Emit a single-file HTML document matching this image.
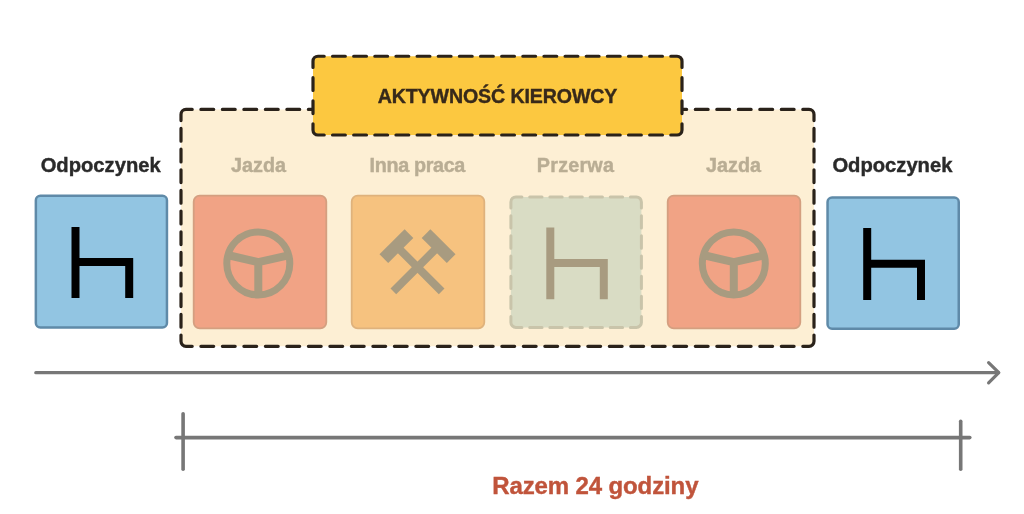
<!DOCTYPE html>
<html><head><meta charset="utf-8">
<style>
html,body{margin:0;padding:0;background:#fff;width:1024px;height:514px;overflow:hidden}
svg{display:block}
text{font-family:"Liberation Sans",sans-serif;font-weight:bold}
svg{will-change:transform}
</style></head>
<body>
<svg width="1024" height="514" viewBox="0 0 1024 514">
<!-- container -->
<rect x="181" y="109.4" width="633" height="236.9" rx="5" fill="#FDEFD4"/>
<path d="M181 120.6V114.4A5 5 0 0 1 186 109.4H192.2M802.8 109.4H809A5 5 0 0 1 814 114.4V120.6M814 335.1V341.3A5 5 0 0 1 809 346.3H802.8M192.2 346.3H186A5 5 0 0 1 181 341.3V335.1M200.9 109.4H213.7M200.9 346.3H213.7M222.39 109.4H235.19M222.39 346.3H235.19M243.89 109.4H256.69M243.89 346.3H256.69M265.39 109.4H278.19M265.39 346.3H278.19M286.88 109.4H299.68M286.88 346.3H299.68M308.38 109.4H321.18M308.38 346.3H321.18M329.88 109.4H342.68M329.88 346.3H342.68M351.37 109.4H364.17M351.37 346.3H364.17M372.87 109.4H385.67M372.87 346.3H385.67M394.37 109.4H407.17M394.37 346.3H407.17M415.86 109.4H428.66M415.86 346.3H428.66M437.36 109.4H450.16M437.36 346.3H450.16M458.86 109.4H471.66M458.86 346.3H471.66M480.35 109.4H493.15M480.35 346.3H493.15M501.85 109.4H514.65M501.85 346.3H514.65M523.34 109.4H536.14M523.34 346.3H536.14M544.84 109.4H557.64M544.84 346.3H557.64M566.34 109.4H579.14M566.34 346.3H579.14M587.83 109.4H600.63M587.83 346.3H600.63M609.33 109.4H622.13M609.33 346.3H622.13M630.83 109.4H643.63M630.83 346.3H643.63M652.32 109.4H665.12M652.32 346.3H665.12M673.82 109.4H686.62M673.82 346.3H686.62M695.32 109.4H708.12M695.32 346.3H708.12M716.81 109.4H729.61M716.81 346.3H729.61M738.31 109.4H751.11M738.31 346.3H751.11M759.81 109.4H772.61M759.81 346.3H772.61M781.3 109.4H794.1M781.3 346.3H794.1M181 128.46V141.26M814 128.46V141.26M181 149.13V161.93M814 149.13V161.93M181 169.79V182.59M814 169.79V182.59M181 190.45V203.25M814 190.45V203.25M181 211.12V223.92M814 211.12V223.92M181 231.78V244.58M814 231.78V244.58M181 252.45V265.25M814 252.45V265.25M181 273.11V285.91M814 273.11V285.91M181 293.77V306.57M814 293.77V306.57M181 314.44V327.24M814 314.44V327.24" fill="none" stroke="#2A221A" stroke-width="3.2" stroke-linecap="round"/>
<!-- header -->
<rect x="313" y="56.25" width="369" height="78.75" rx="5" fill="#FCC840"/>
<path d="M313 67.45V61.25A5 5 0 0 1 318 56.25H324.2M670.8 56.25H677A5 5 0 0 1 682 61.25V67.45M682 123.8V130A5 5 0 0 1 677 135H670.8M324.2 135H318A5 5 0 0 1 313 130V123.8M332.54 56.25H345.34M332.54 135H345.34M353.68 56.25H366.48M353.68 135H366.48M374.82 56.25H387.62M374.82 135H387.62M395.96 56.25H408.76M395.96 135H408.76M417.11 56.25H429.91M417.11 135H429.91M438.25 56.25H451.05M438.25 135H451.05M459.39 56.25H472.19M459.39 135H472.19M480.53 56.25H493.33M480.53 135H493.33M501.67 56.25H514.47M501.67 135H514.47M522.81 56.25H535.61M522.81 135H535.61M543.95 56.25H556.75M543.95 135H556.75M565.09 56.25H577.89M565.09 135H577.89M586.24 56.25H599.04M586.24 135H599.04M607.38 56.25H620.18M607.38 135H620.18M628.52 56.25H641.32M628.52 135H641.32M649.66 56.25H662.46M649.66 135H662.46M313 77.7V90.5M682 77.7V90.5M313 100.75V113.55M682 100.75V113.55" fill="none" stroke="#2A221A" stroke-width="3.2" stroke-linecap="round"/>
<text x="497.5" y="103.1" font-size="19.6" letter-spacing="-0.11" fill="#37291A" text-anchor="middle" stroke="#37291A" stroke-width="0.4">AKTYWNOŚĆ KIEROWCY</text>

<!-- labels -->
<text x="100.7" y="171.75" font-size="20.2" fill="#2A2A2A" text-anchor="middle" stroke="#2A2A2A" stroke-width="0.4">Odpoczynek</text>
<text x="258.5" y="171.75" font-size="19.8" fill="#B9AD94" text-anchor="middle" stroke="#B9AD94" stroke-width="0.4">Jazda</text>
<text x="417.3" y="171.75" font-size="19.8" letter-spacing="-0.35" fill="#B9AD94" text-anchor="middle" stroke="#B9AD94" stroke-width="0.4">Inna praca</text>
<text x="575.5" y="171.75" font-size="19.8" letter-spacing="0.2" fill="#B9AD94" text-anchor="middle" stroke="#B9AD94" stroke-width="0.4">Przerwa</text>
<text x="733.5" y="171.75" font-size="19.8" fill="#B9AD94" text-anchor="middle" stroke="#B9AD94" stroke-width="0.4">Jazda</text>
<text x="892.4" y="171.75" font-size="20.2" fill="#2A2A2A" text-anchor="middle" stroke="#2A2A2A" stroke-width="0.4">Odpoczynek</text>

<!-- left blue box -->
<rect x="35.85" y="195.85" width="131.1" height="131.7" rx="4.5" fill="#92C5E2" stroke="#5F8AA8" stroke-width="2.5"/>
<path d="M75.5 227V298M75.5 262H129.2V298" fill="none" stroke="#000" stroke-width="8"/>

<!-- jazda 1 -->
<rect x="193.7" y="195.7" width="132.6" height="132.6" rx="6" fill="#F1A385" stroke="#D49F80" stroke-width="1.8"/>
<g fill="none" stroke="#A89B80" stroke-width="7">
<circle cx="258.3" cy="263.4" r="31.5"/>
<path d="M227.5 255L258.3 262.2L289.5 255.2M258.3 262.2V295" stroke-width="8"/>
</g>

<!-- inna praca -->
<rect x="351.7" y="195.7" width="132.6" height="132.6" rx="6" fill="#F6C27F" stroke="#DFB27C" stroke-width="1.8"/>
<g fill="#A89B80">
<g transform="translate(396.4,246.1) rotate(45)"><rect x="-6.15" y="-17.75" width="12.3" height="35.5"/><rect x="0" y="-4" width="64" height="8"/></g>
<g transform="translate(438.6,246.1) rotate(135)"><rect x="-6.15" y="-17.75" width="12.3" height="35.5"/><rect x="0" y="-4" width="64" height="8"/></g>
</g>

<!-- przerwa -->
<rect x="510.9" y="196.9" width="130.5" height="130.5" rx="5" fill="#D9DCC4"/>
<path d="M510.9 207.9V201.9A5 5 0 0 1 515.9 196.9H521.9M630.4 196.9H636.4A5 5 0 0 1 641.4 201.9V207.9M641.4 316.4V322.4A5 5 0 0 1 636.4 327.4H630.4M521.9 327.4H515.9A5 5 0 0 1 510.9 322.4V316.4M529.73 196.9H542.03M529.73 327.4H542.03M549.87 196.9H562.17M549.87 327.4H562.17M570 196.9H582.3M570 327.4H582.3M590.13 196.9H602.43M590.13 327.4H602.43M610.27 196.9H622.57M610.27 327.4H622.57M510.9 215.73V228.03M641.4 215.73V228.03M510.9 235.87V248.17M641.4 235.87V248.17M510.9 256V268.3M641.4 256V268.3M510.9 276.13V288.43M641.4 276.13V288.43M510.9 296.27V308.57M641.4 296.27V308.57" fill="none" stroke="#C9C4AA" stroke-width="3" stroke-linecap="round"/>
<path d="M550.3 227.4V299.2M550.3 263H603.8V299.2" fill="none" stroke="#A89B80" stroke-width="8"/>

<!-- jazda 2 -->
<rect x="667.7" y="195.7" width="132.6" height="132.6" rx="6" fill="#F1A385" stroke="#D49F80" stroke-width="1.8"/>
<g fill="none" stroke="#A89B80" stroke-width="7">
<circle cx="733.8" cy="263.4" r="31.5"/>
<path d="M703 255L733.8 262.2L765 255.2M733.8 262.2V295" stroke-width="8"/>
</g>

<!-- right blue box -->
<rect x="827.55" y="197.55" width="131.2" height="131.2" rx="4.5" fill="#92C5E2" stroke="#5F8AA8" stroke-width="2.5"/>
<path d="M867.2 228V300M867.2 263.7H921V300" fill="none" stroke="#000" stroke-width="8"/>

<!-- timeline arrow -->
<g fill="none" stroke="#777" stroke-width="3.2" stroke-linecap="round" stroke-linejoin="round">
<path d="M35.8 372.7H998.5"/>
<path d="M988.6 362.6L998.8 372.7L988.6 382.9"/>
</g>
<!-- bracket -->
<g fill="none" stroke="#777" stroke-width="3.6" stroke-linecap="round">
<path d="M176 437.6H969.8"/>
<path d="M183.1 413.8V469.2"/>
<path d="M960.7 421.3V469.2"/>
</g>
<text x="595.3" y="493.6" font-size="24" letter-spacing="-0.12" fill="#C0543B" text-anchor="middle" stroke="#C0543B" stroke-width="0.4">Razem 24 godziny</text>
</svg>
</body></html>
